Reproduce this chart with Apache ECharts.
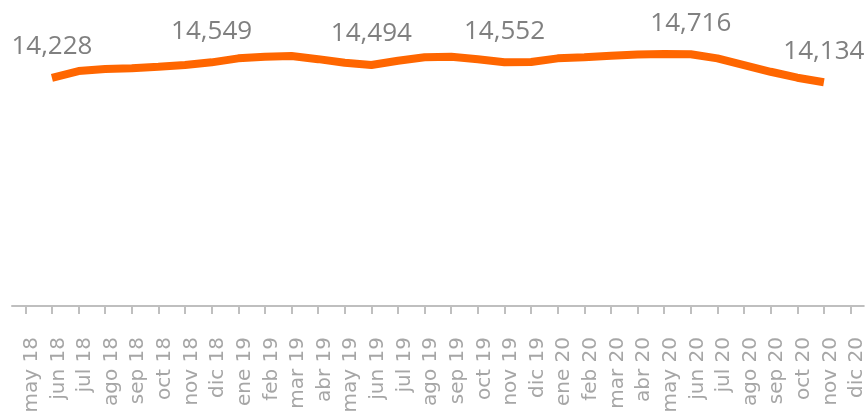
<!DOCTYPE html>
<html>
<head>
<meta charset="utf-8">
<script src="https://cdn.jsdelivr.net/npm/echarts@6/dist/echarts.min.js"></script>
<style>
  html, body { margin: 0; padding: 0; background: #fff; }
  #chart { width: 867px; height: 416px; }
</style>
</head>
<body>
<div id="chart"></div>
<script>
var months = [
    'may 18', 'jun 18', 'jul 18', 'ago 18', 'sep 18', 'oct 18', 'nov 18', 'dic 18',
    'ene 19', 'feb 19', 'mar 19', 'abr 19', 'may 19', 'jun 19', 'jul 19', 'ago 19',
    'sep 19', 'oct 19', 'nov 19', 'dic 19', 'ene 20', 'feb 20', 'mar 20', 'abr 20',
    'may 20', 'jun 20', 'jul 20', 'ago 20', 'sep 20', 'oct 20', 'nov 20', 'dic 20'
];
var values = [
    null, 14228, 14368, 14410, 14424, 14457, 14493, 14549,
    14632, 14665, 14680, 14615, 14541, 14494, 14582, 14653,
    14665, 14611, 14552, 14557, 14632, 14653, 14686, 14712,
    14720, 14716, 14632, 14493, 14353, 14229, 14134, null
];
var labelledMonths = ['jun 18', 'dic 18', 'jun 19', 'nov 19', 'jun 20', 'nov 20'];

var chartDom = document.getElementById('chart');
var myChart = echarts.init(chartDom);

var seriesData = values.map(function (v, i) {
    return {
        value: v,
        label: { show: labelledMonths.indexOf(months[i]) >= 0 }
    };
});

var option = {
    animation: false,
    grid: { left: 12, right: 2, top: 32, bottom: 110 },
    xAxis: {
        type: 'category',
        data: months,
        boundaryGap: true,
        axisLine: { lineStyle: { color: '#bfbfbf', width: 2 } },
        axisTick: {
            show: true,
            interval: 0,
            alignWithLabel: true,
            length: 8,
            lineStyle: { color: '#bfbfbf', width: 2 }
        },
        axisLabel: {
            interval: 0,
            rotate: 90,
            margin: 31,
            color: '#a6a6a6',
            fontFamily: 'DejaVu Sans',
            fontSize: 20,
            verticalAlign: 'top',
            lineHeight: 13
        }
    },
    yAxis: {
        type: 'value',
        min: 9480,
        max: 15180,
        show: false,
        splitLine: { show: false }
    },
    series: [
        {
            type: 'line',
            data: seriesData,
            symbol: 'circle',
            symbolSize: 0,
            showSymbol: true,
            itemStyle: { color: '#ff6600' },
            lineStyle: { color: '#ff6600', width: 8 },
            label: {
                position: 'top',
                distance: 18,
                color: '#808080',
                fontFamily: 'Open Sans',
                fontSize: 26,
                lineHeight: 26,
                formatter: function (p) {
                    return p.value.toLocaleString('en-US');
                }
            }
        }
    ]
};
option && myChart.setOption(option);
</script>
</body>
</html>
